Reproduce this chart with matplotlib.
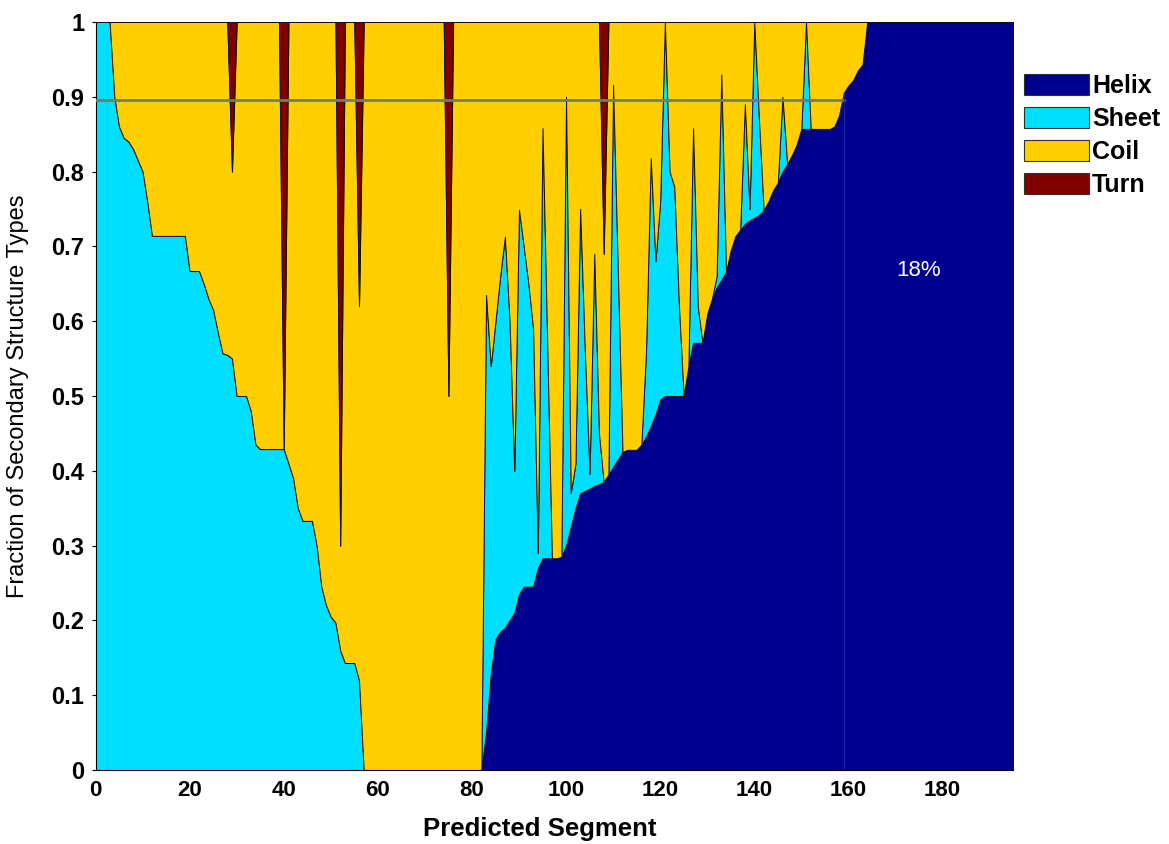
import numpy as np
import matplotlib
matplotlib.use("Agg")
import matplotlib.pyplot as plt
from matplotlib.patches import Patch

plt.rcParams['font.family'] = ['Liberation Sans', 'DejaVu Sans']

# ---- data: fraction of each secondary structure type per predicted segment ----
segments = np.arange(0, 196)

helix = ([0.0] * 83 +
         [0.05, 0.13, 0.175, 0.185, 0.19, 0.20, 0.21, 0.235, 0.245, 0.245,
          0.245, 0.27, 0.283, 0.283, 0.283, 0.283, 0.285, 0.30, 0.325, 0.35,
          0.37, 0.373, 0.376, 0.38, 0.382, 0.385, 0.395, 0.405, 0.415, 0.425,
          0.428, 0.428, 0.428, 0.435, 0.445, 0.46, 0.475, 0.495, 0.5, 0.5,
          0.5, 0.5, 0.5, 0.54, 0.571, 0.571, 0.571, 0.61, 0.63, 0.645,
          0.655, 0.666, 0.695, 0.714, 0.722, 0.73, 0.735, 0.738, 0.742, 0.748,
          0.76, 0.775, 0.785, 0.80, 0.81, 0.822, 0.836, 0.857, 0.857, 0.857,
          0.857, 0.857, 0.857, 0.857, 0.86, 0.875, 0.905, 0.915, 0.922, 0.935,
          0.943] +
         [1.0] * 32)

sheet = ([1.0, 1.0, 1.0, 1.0, 0.90, 0.86, 0.845, 0.84, 0.83, 0.815, 0.80, 0.76] +
         [0.714] * 8 + [0.667] * 3 +
         [0.65, 0.63, 0.615, 0.585, 0.557, 0.555, 0.55, 0.5, 0.5, 0.5, 0.48, 0.435] +
         [0.429] * 6 + [0.41, 0.39, 0.35] + [0.333] * 3 +
         [0.30, 0.245, 0.22, 0.205, 0.197, 0.16] + [0.143] * 3 + [0.12] +
         [0.0] * 26 +
         [0.585, 0.41, 0.425, 0.475, 0.523, 0.40, 0.19, 0.514, 0.455, 0.405,
          0.345, 0.02, 0.575, 0.287, 0.0, 0.0, 0.0, 0.60, 0.045, 0.06,
          0.38, 0.187, 0.02, 0.31, 0.068, 0.0, 0.0, 0.511, 0.255, 0.0,
          0.0, 0.0, 0.0, 0.0, 0.115, 0.358, 0.205, 0.265, 0.5, 0.3,
          0.28, 0.12, 0.0, 0.0, 0.287, 0.049, 0.0, 0.0, 0.0, 0.015,
          0.275, 0.0, 0.0, 0.0, 0.0, 0.16, 0.015, 0.262, 0.128, 0.0,
          0.0, 0.0, 0.0, 0.10, 0.0, 0.0, 0.0, 0.0, 0.143] +
         [0.0] * 44)

coil = ([0.0, 0.0, 0.0, 0.0, 0.10, 0.14, 0.155, 0.16, 0.17, 0.185, 0.20, 0.24] +
        [0.286] * 8 + [0.333] * 3 +
        [0.35, 0.37, 0.385, 0.415, 0.443, 0.445, 0.25, 0.5, 0.5, 0.5, 0.52, 0.565] +
        [0.571] * 5 + [0.0] + [0.59, 0.61, 0.65] + [0.667] * 3 +
        [0.70, 0.755, 0.78, 0.795, 0.803, 0.14] + [0.857] * 3 + [0.50] +
        [1.0] * 18 + [0.5] + [1.0] * 7 +
        [0.365, 0.46, 0.40, 0.34, 0.287, 0.40, 0.60, 0.251, 0.30, 0.35,
         0.41, 0.71, 0.142, 0.43, 0.717, 0.717, 0.715, 0.10, 0.63, 0.59,
         0.25, 0.44, 0.604, 0.31, 0.55, 0.305, 0.605, 0.084, 0.33, 0.575,
         0.572, 0.572, 0.572, 0.565, 0.44, 0.182, 0.32, 0.24, 0.0, 0.2,
         0.22, 0.38, 0.5, 0.46, 0.142, 0.38, 0.429, 0.39, 0.37, 0.34,
         0.07, 0.334, 0.305, 0.286, 0.278, 0.11, 0.25, 0.0, 0.13, 0.252,
         0.24, 0.225, 0.215, 0.10, 0.19, 0.178, 0.164, 0.143, 0.0, 0.143,
         0.143, 0.143, 0.143, 0.143, 0.14, 0.125, 0.095, 0.085, 0.078, 0.065,
         0.057] +
        [0.0] * 32)

turn_segments = [29, 40, 52, 56, 75, 108]
turn_values = [0.20, 0.571, 0.70, 0.38, 0.50, 0.31]

type_names = ['Helix', 'Sheet', 'Coil', 'Turn']
type_colors = ['#00008F', '#00DFFF', '#FFCF00', '#800000']

threshold = 0.895
threshold_end = 159
group_label = '18%'

x_ticks = [0, 20, 40, 60, 80, 100, 120, 140, 160, 180]
y_ticks = [0, 0.1, 0.2, 0.3, 0.4, 0.5, 0.6, 0.7, 0.8, 0.9, 1]
y_tick_labels = ['0', '0.1', '0.2', '0.3', '0.4', '0.5', '0.6', '0.7', '0.8', '0.9', '1']

turn = np.zeros(len(segments))
turn[turn_segments] = turn_values

# ---- figure ----
fig = plt.figure(figsize=(11.69, 8.44), dpi=100)
ax = fig.add_axes([0.0817, 0.0877, 0.7849, 0.8863])

ax.stackplot(segments, helix, sheet, coil, turn, colors=type_colors,
             edgecolor='#101010', linewidth=0.7)

# threshold line and boundary of the all-helix group
ax.plot([0, threshold_end], [threshold, threshold], color='#777777', lw=2.0, zorder=5)
ax.plot([threshold_end, threshold_end], [0, helix[threshold_end]],
        color='#1e1ea0', lw=0.9, zorder=5)

ax.text(175, 0.668, group_label, color='white', fontsize=16,
        ha='center', va='center')

ax.set_xlim(0, 195)
ax.set_ylim(0, 1)
ax.set_xticks(x_ticks)
ax.set_yticks(y_ticks)
ax.set_yticklabels(y_tick_labels)
for lbl in ax.get_xticklabels():
    lbl.set_fontweight('bold')
    lbl.set_fontsize(16)
for lbl in ax.get_yticklabels():
    lbl.set_fontweight('bold')
    lbl.set_fontsize(17)
ax.tick_params(axis='x', length=0, pad=7)
ax.tick_params(axis='y', direction='out', length=3, width=0.8, pad=5)

for side in ['top', 'right']:
    ax.spines[side].set_visible(False)
for side in ['left', 'bottom']:
    ax.spines[side].set_color('black')
    ax.spines[side].set_linewidth(0.8)

ax.set_ylabel('Fraction of Secondary Structure Types', fontsize=17)
ax.yaxis.set_label_coords(-0.073, 0.5)
ax.set_xlabel('Predicted Segment', fontsize=18.5, fontweight='bold')
ax.xaxis.set_label_coords(0.4845, -0.063)

handles = [Patch(facecolor=c, edgecolor='#303030', linewidth=0.8) for c in type_colors]
leg = fig.legend(handles, type_names, loc='upper left',
                 bbox_to_anchor=(1024 / 1169, 1 - 74 / 844),
                 frameon=False, prop={'weight': 'bold', 'size': 18},
                 handlelength=2.6, handleheight=0.9, handletextpad=0.12,
                 labelspacing=0.36, borderpad=0, borderaxespad=0)

fig.savefig('out.png', dpi=100)
